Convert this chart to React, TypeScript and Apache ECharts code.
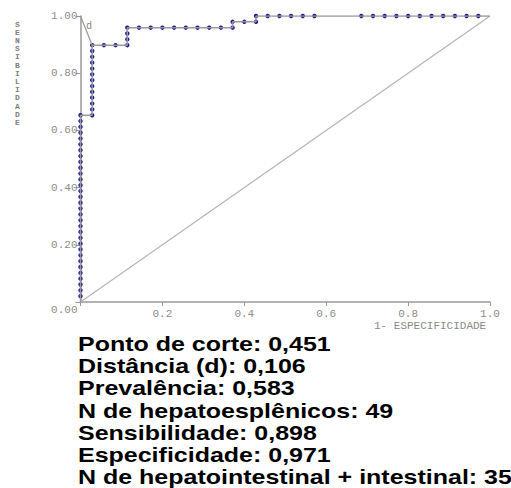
import React, { useEffect, useRef } from "react";
import * as echarts from "echarts";

// Counts from the study (denominators of the ROC axes)
const nPositive = 49; // N de hepatoesplênicos
const nNegative = 35; // N de hepatointestinal + intestinal

// ROC step curve vertices as [false positives, true positives] counts
const rocVertices: [number, number][] = [
  [0, 0], [0, 32], [1, 32], [1, 44], [4, 44], [4, 47],
  [13, 47], [13, 48], [15, 48], [15, 49], [35, 49],
];

// Observed cut-off points on the curve, [false positives, true positives]
const rocDots: [number, number][] = [
  [0, 1], [0, 2], [0, 3], [0, 4], [0, 5], [0, 6], [0, 7], [0, 8], [0, 9], [0, 10],
  [0, 11], [0, 12], [0, 13], [0, 14], [0, 15], [0, 16], [0, 17], [0, 18], [0, 19], [0, 20],
  [0, 21], [0, 22], [0, 23], [0, 24], [0, 25], [0, 26], [0, 27], [0, 28], [0, 29], [0, 30],
  [0, 31], [0, 32],
  [1, 32], [1, 33], [1, 34], [1, 35], [1, 36], [1, 37], [1, 38], [1, 39], [1, 40], [1, 41],
  [1, 42], [1, 43], [1, 44],
  [2, 44], [3, 44], [4, 44], [4, 45], [4, 46], [4, 47],
  [5, 47], [6, 47], [7, 47], [8, 47], [9, 47], [10, 47], [11, 47], [12, 47], [13, 47],
  [13, 48], [14, 48], [15, 48], [15, 49],
  [16, 49], [17, 49], [18, 49], [19, 49], [20, 49],
  [24, 49], [25, 49], [26, 49], [27, 49], [28, 49], [29, 49], [30, 49], [31, 49], [32, 49],
  [33, 49], [34, 49],
];

// Optimal cut-off point (distance d from the top-left corner)
const optimalPoint: [number, number] = [1, 44];

const xTicks = [0, 0.2, 0.4, 0.6, 0.8, 1.0];
const yTicks = [0, 0.2, 0.4, 0.6, 0.8, 1.0];

const yAxisTitle = "SENSIBILIDADE";
const xAxisTitle = "1- ESPECIFICIDADE";

const infoLines = [
  "Ponto de corte: 0,451",
  "Distância (d): 0,106",
  "Prevalência: 0,583",
  "N de hepatoesplênicos: 49",
  "Sensibilidade: 0,898",
  "Especificidade: 0,971",
  "N de hepatointestinal + intestinal: 35",
];

const toRate = (p: [number, number]): [number, number] => [p[0] / nNegative, p[1] / nPositive];

export default function App() {
  const ref = useRef<HTMLDivElement>(null);
  useEffect(() => {
    document.body.style.margin = "0";
    if (!ref.current) return;
    const chart = echarts.init(ref.current, null, { renderer: "svg" });
    const axisFont = '"Liberation Mono", monospace';
    const gray = "#8c8c8c";
    chart.setOption({
      animation: false,
      backgroundColor: "#ffffff",
      grid: { left: 80.5, right: 21, top: 16, bottom: 186, containLabel: false },
      xAxis: {
        type: "value",
        min: xTicks[0],
        max: xTicks[xTicks.length - 1],
        interval: 0.2,
        splitLine: { show: false },
        axisLine: { lineStyle: { color: "#999", width: 1.5 } },
        axisTick: { length: 4, lineStyle: { color: "#999" } },
        axisLabel: {
          margin: 6,
          color: gray,
          fontFamily: axisFont,
          fontSize: 11,
          formatter: (v: number) => (v === 0 ? "" : v.toFixed(1)),
        },
      },
      yAxis: {
        type: "value",
        min: yTicks[0],
        max: yTicks[yTicks.length - 1],
        interval: 0.2,
        splitLine: { show: false },
        axisLine: { lineStyle: { color: "#999", width: 1.5 } },
        axisTick: { length: 5, lineStyle: { color: "#999" } },
        axisLabel: {
          margin: 3,
          color: gray,
          fontFamily: axisFont,
          fontSize: 11,
          formatter: (v: number) => (v === 0 ? "{low|0.00}" : v.toFixed(2)),
          rich: { low: { padding: [15, 0, 0, 0], color: gray, fontFamily: axisFont, fontSize: 11 } },
        },
      },
      series: [
        {
          type: "line",
          data: [[0, 0], [1, 1]],
          symbol: "none",
          lineStyle: { color: "#b4b4b4", width: 1.2 },
          silent: true,
        },
        {
          type: "line",
          data: [[0, 1], toRate(optimalPoint)],
          symbol: "none",
          lineStyle: { color: "#999", width: 1.2 },
          silent: true,
        },
        {
          type: "line",
          data: rocVertices.map(toRate),
          symbol: "none",
          lineStyle: { color: "#999", width: 1.5 },
          silent: true,
        },
        {
          type: "scatter",
          data: rocDots.map(toRate),
          symbol: "circle",
          symbolSize: 4.4,
          itemStyle: { color: "#1a1a96", opacity: 1 },
          silent: true,
        },
      ],
      graphic: [
        {
          type: "text",
          x: 17.5,
          y: 20,
          style: {
            text: yAxisTitle.split("").join("\n"),
            font: 'bold 8px "Liberation Mono", monospace',
            fill: "#808080",
            align: "center",
            verticalAlign: "top",
            lineHeight: 8.2,
          },
        },
        {
          type: "text",
          x: 86,
          y: 26,
          style: {
            text: "d",
            font: '10px "Liberation Mono", monospace',
            fill: "#888",
            align: "left",
            verticalAlign: "middle",
          },
        },
        {
          type: "text",
          x: 374,
          y: 326,
          style: {
            text: xAxisTitle,
            font: '11px "Liberation Mono", monospace',
            fill: "#888",
            align: "left",
            verticalAlign: "middle",
          },
        },
        ...infoLines.map((t, i) => ({
          type: "text",
          x: 78,
          y: 344 + i * 22.1,
          scaleX: 1.19,
          style: {
            text: t,
            font: 'bold 21px "Liberation Sans", Arial, sans-serif',
            fill: "#000",
            align: "left",
            verticalAlign: "middle",
          },
        })),
      ],
    });
    return () => chart.dispose();
  }, []);
  return <div ref={ref} style={{ width: 511, height: 488 }} />;
}
